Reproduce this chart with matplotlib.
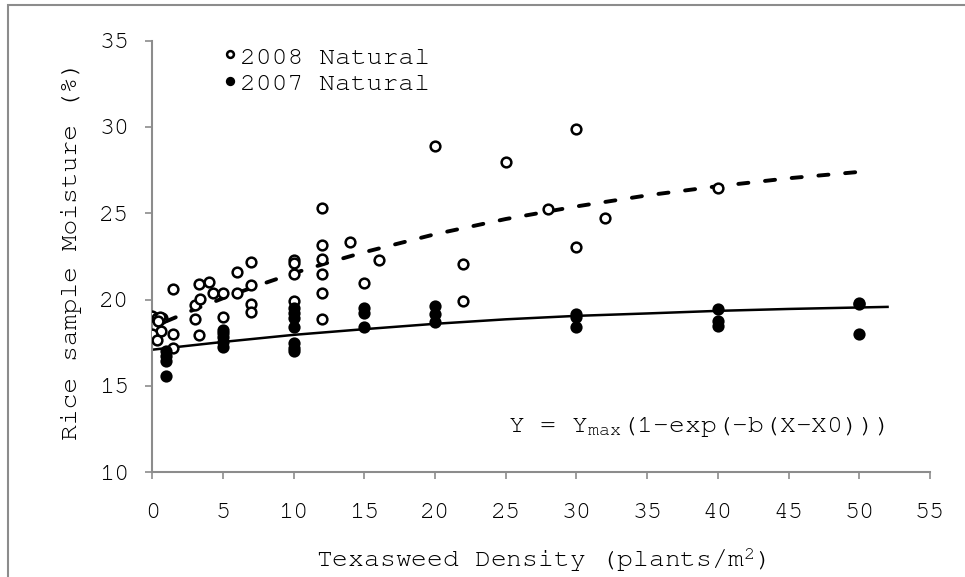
import matplotlib
matplotlib.use("Agg")
import matplotlib.pyplot as plt
from matplotlib import font_manager
from matplotlib.patches import Rectangle

# ---- data ----
x_2008 = [0, 0.3, 0.5, 0.7, 0.55, 0.4, 0.6, 0, 0.35,
          1.5, 1.5, 1.5,
          3, 3, 3.3, 3.35, 3.3, 4, 4.3,
          5, 5, 6, 6, 7, 7, 7, 7,
          10, 10, 10, 10,
          12, 12, 12, 12, 12, 12,
          14, 15, 16, 20, 22, 22,
          25, 28, 30, 30, 32, 40]
y_2008 = [19.07, 18.92, 18.83, 18.92, 18.97, 18.78, 18.19, 17.99, 17.64,
          20.6, 17.99, 17.2,
          19.67, 18.87, 20.9, 20.01, 17.94, 21.05, 20.36,
          20.36, 18.97, 21.59, 20.41, 22.18, 20.85, 19.77, 19.27,
          22.28, 22.13, 21.49, 19.91,
          25.33, 23.16, 22.38, 21.49, 20.41, 18.87,
          23.36, 20.95, 22.28, 28.88, 22.08, 19.91,
          28.0, 25.24, 29.87, 23.07, 24.74, 26.47]

x_2007 = [1, 1, 1, 1,
          5, 5, 5, 5, 5,
          10, 10, 10, 10, 10, 10, 10,
          15, 15, 15,
          20, 20, 20,
          30, 30, 30,
          40, 40, 40,
          50, 50, 50]
y_2007 = [17.05, 16.75, 16.45, 15.57,
          18.25, 18.05, 17.85, 17.55, 17.25,
          19.53, 19.23, 18.93, 18.44, 17.5, 17.2, 17.05,
          19.53, 19.23, 18.4,
          19.63, 19.18, 18.7,
          19.18, 18.98, 18.4,
          19.48, 18.78, 18.5,
          19.82, 19.72, 18.0]

# fitted curves, values
fit08_x = [1, 3, 5, 7.5, 10, 12.5, 15, 20, 25, 30, 35, 40, 45, 50]
fit08_y = [18.75, 19.44, 20.08, 20.83, 21.53, 22.16, 22.75, 23.79,
           24.67, 25.4, 26.04, 26.57, 27.03, 27.4]
fit07_x = [0, 5, 10, 15, 20, 25, 30, 35, 40, 45, 52]
fit07_y = [17.1, 17.55, 17.96, 18.29, 18.6, 18.86, 19.06, 19.2,
           19.35, 19.46, 19.58]

x_ticks = list(range(0, 56, 5))
y_ticks = list(range(10, 36, 5))

# ---- style ----
installed = {f.name for f in font_manager.fontManager.ttflist}
mono = next((n for n in ["Courier New", "Nimbus Mono PS", "FreeMono",
                         "Liberation Mono"] if n in installed),
            "DejaVu Sans Mono")
plt.rcParams["font.family"] = [mono, "DejaVu Sans Mono"]
plt.rcParams["mathtext.default"] = "regular"
grey = "#8c8c8c"

fig = plt.figure(figsize=(9.65, 5.77), dpi=100)
# outer chart-area border (only left and top edges fall inside the image)
fig.patches.append(Rectangle((8 / 965, -0.05), 1.1, 1.05 - 5 / 577,
                             transform=fig.transFigure, fill=False,
                             edgecolor=grey, lw=1.5))

ax = fig.add_axes([0.1578, 0.1815, 0.8059, 0.748])

ax.plot(fit08_x, fit08_y, color="black", lw=2.8, ls=(0, (2.6, 4.3)),
        dash_capstyle="round", zorder=2)
ax.plot(fit07_x, fit07_y, color="black", lw=1.8, zorder=2)

ax.plot(x_2008, y_2008, ls="none", marker="o", ms=7, mew=1.8,
        mfc="white", mec="black", label="2008 Natural", zorder=3)
ax.plot(x_2007, y_2007, ls="none", marker="o", ms=7, mew=1.8,
        mfc="black", mec="black", label="2007 Natural", zorder=3)

ax.set_xlim(0, 55)
ax.set_ylim(10, 35)
ax.set_xticks(x_ticks)
ax.set_yticks(y_ticks)
ax.tick_params(direction="out", length=5, width=1.2, color=grey,
               labelsize=18)
ax.tick_params(axis="y", pad=11.5)
ax.tick_params(axis="x", pad=17)
for s in ["top", "right"]:
    ax.spines[s].set_visible(False)
for s in ["left", "bottom"]:
    ax.spines[s].set_color(grey)
    ax.spines[s].set_linewidth(1.5)

ax.set_xlabel("Texasweed Density (plants/m$^{2}$)", fontsize=19,
              labelpad=17)
ax.set_ylabel("Rice sample Moisture (%)", fontsize=19)
ax.yaxis.set_label_coords(-0.091, 0.515)

ax.text(0.942, 0.104, "Y = Y$_{max}$(1-exp(-b(X-X0)))", fontsize=19,
        transform=ax.transAxes, ha="right", va="center")

ax.legend(loc="upper left", bbox_to_anchor=(0.0927, 0.9895), frameon=False,
          fontsize=19, markerscale=0.7, handlelength=0.4,
          handletextpad=0.2, labelspacing=0.1, borderpad=0,
          borderaxespad=0)

fig.savefig("out.png", dpi=100)
